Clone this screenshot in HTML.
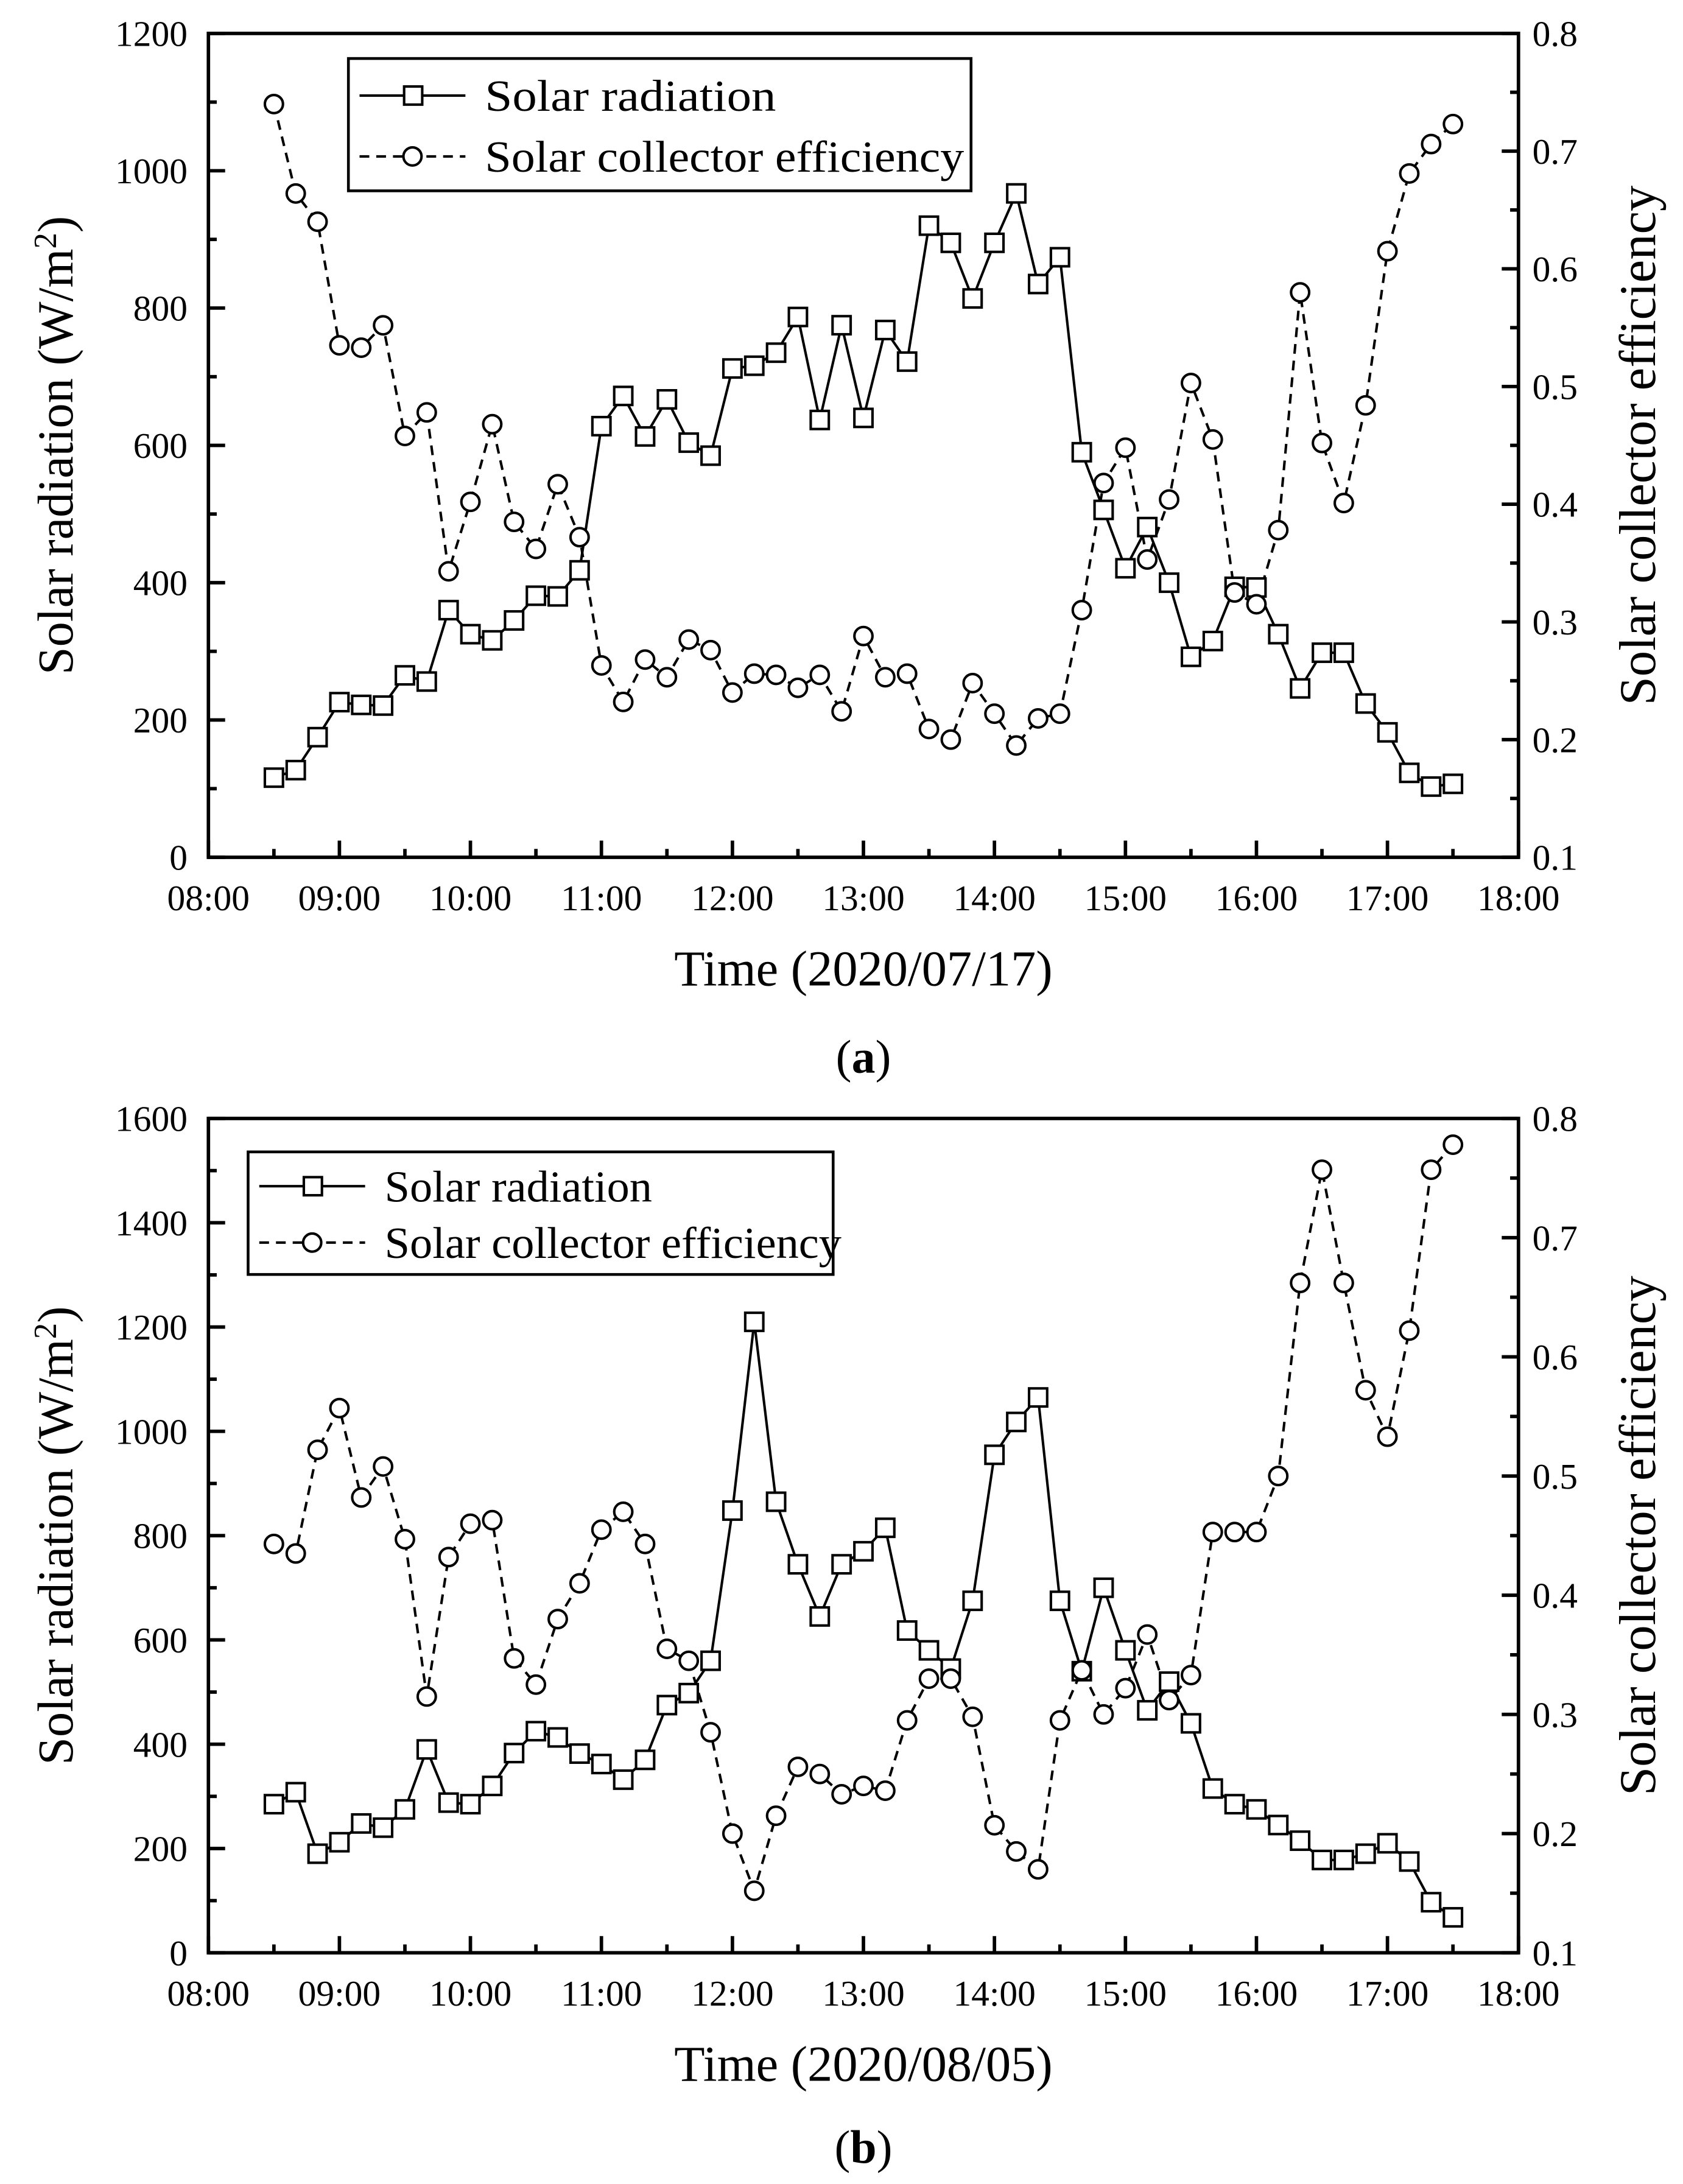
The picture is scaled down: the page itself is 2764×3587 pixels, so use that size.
<!DOCTYPE html>
<html><head><meta charset="utf-8"><style>
html,body{margin:0;padding:0;background:#fff;}
svg{display:block;}
text{font-family:"Liberation Serif",serif;fill:#000;}
</style></head><body>
<svg id="fig" width="2764" height="3587" viewBox="0 0 1208 1568" xmlns="http://www.w3.org/2000/svg"></svg>
<script>
const timeLabels=["08:00","09:00","10:00","11:00","12:00","13:00","14:00","15:00","16:00","17:00","18:00"];
const startMinutes=510, stepMinutes=10;
const radA=[116,127,175,226,222,221,265,256,360,325,316,345,381,380,418,628,672,613,667,604,585,712,716,735,787,637,775,640,768,722,920,895,814,895,967,835,874,590,506,421,481,400,292,315,394,393,325,246,298,298,224,182,123,103,107];
const effA=[0.74,0.664,0.64,0.535,0.533,0.552,0.458,0.478,0.343,0.402,0.468,0.385,0.362,0.417,0.372,0.263,0.232,0.268,0.253,0.285,0.276,0.24,0.256,0.255,0.244,0.255,0.224,0.288,0.253,0.256,0.209,0.2,0.248,0.222,0.195,0.218,0.222,0.31,0.418,0.448,0.353,0.404,0.503,0.455,0.325,0.315,0.378,0.58,0.452,0.401,0.484,0.615,0.681,0.706,0.723];
const radB=[285,308,190,212,248,240,275,390,288,285,320,383,425,413,382,362,332,370,475,498,560,848,1210,865,745,645,745,770,815,618,580,545,675,955,1018,1065,675,540,700,580,465,520,440,315,285,275,245,215,178,178,190,210,175,97,68];
const effB=[0.443,0.435,0.522,0.557,0.482,0.508,0.447,0.315,0.432,0.46,0.463,0.347,0.325,0.38,0.41,0.455,0.47,0.443,0.355,0.345,0.285,0.2,0.152,0.215,0.256,0.25,0.233,0.24,0.236,0.295,0.33,0.33,0.298,0.207,0.185,0.17,0.295,0.337,0.3,0.322,0.367,0.312,0.333,0.453,0.453,0.453,0.5,0.662,0.757,0.662,0.572,0.533,0.622,0.757,0.778];
const leftTicksA=[0,200,400,600,800,1000,1200];
const leftTicksB=[0,200,400,600,800,1000,1200,1400,1600];
const rightTicks=[0.1,0.2,0.3,0.4,0.5,0.6,0.7,0.8];

const NS="http://www.w3.org/2000/svg";
const svg=document.getElementById('fig');
function mk(tag,attrs,parent){const e=document.createElementNS(NS,tag);for(const k in attrs)e.setAttribute(k,attrs[k]);(parent||svg).appendChild(e);return e;}

function chart(cfg){
  const g=mk('g',{});
  
  
  const x0=149.5,x1=1090,yT=cfg.top,yB=cfg.bottom;
  const xs=m=>x0+(m-480)/600*(x1-x0);
  const yl=v=>yB-v/cfg.lmax*(yB-yT);
  const yr=v=>yB-(v-0.1)/0.7*(yB-yT);
  const frame=mk('rect',{x:x0,y:yT,width:x1-x0,height:yB-yT,fill:'none',stroke:'#000','stroke-width':2.5},g);
  
  
  timeLabels.forEach((t,i)=>{const x=xs(480+i*60);
    mk('line',{x1:x,x2:x,y1:yB,y2:yB-12,stroke:'#000','stroke-width':2.5},g);
    if(i<10)mk('line',{x1:xs(510+i*60),x2:xs(510+i*60),y1:yB,y2:yB-6,stroke:'#000','stroke-width':2.5},g);
    const tx=mk('text',{x:x,y:yB+38,'font-size':26,'text-anchor':'middle'},g);tx.textContent=t;
    
    });
  cfg.lticks.forEach((v,i)=>{const y=yl(v);
    mk('line',{x1:x0,x2:x0+12,y1:y,y2:y,stroke:'#000','stroke-width':2.5},g);
    if(i<cfg.lticks.length-1){const ym=yl(v+100);mk('line',{x1:x0,x2:x0+6,y1:ym,y2:ym,stroke:'#000','stroke-width':2.5},g);}
    const tx=mk('text',{x:x0-15,y:y+9,'font-size':26,'text-anchor':'end'},g);tx.textContent=v;
    
    });
  rightTicks.forEach((v,i)=>{const y=yr(v);
    mk('line',{x1:x1-12,x2:x1,y1:y,y2:y,stroke:'#000','stroke-width':2.5},g);
    if(i<rightTicks.length-1){const ym=yr(v+0.05);mk('line',{x1:x1-6,x2:x1,y1:ym,y2:ym,stroke:'#000','stroke-width':2.5},g);}
    const tx=mk('text',{x:x1+10,y:y+9,'font-size':26},g);tx.textContent=String(v);
    
    });
  const xt=mk('text',{x:(x0+x1)/2,y:yB+92,'font-size':36,'text-anchor':'middle'},g);xt.textContent=cfg.xtitle;
  
  
  const cy=(yT+yB)/2;
  const lt=mk('text',{x:0,y:0,'font-size':36,'text-anchor':'middle',transform:`translate(52,${cy}) rotate(-90)`},g);
  lt.innerHTML='Solar radiation (W/m<tspan dy="-12" font-size="23">2</tspan><tspan dy="12">)</tspan>';
  
  
  const rt=mk('text',{x:0,y:0,'font-size':37,'text-anchor':'middle',transform:`translate(1188,${cy}) rotate(-90)`},g);
  rt.textContent='Solar collector efficiency';
  
  
  const xsOf=i=>xs(startMinutes+i*stepMinutes);
  const p1=mk('polyline',{points:cfg.rad.map((v,i)=>xsOf(i)+','+yl(v)).join(' '),fill:'none',stroke:'#000','stroke-width':1.8},g);
  
  
  const p2=mk('polyline',{points:cfg.eff.map((v,i)=>xsOf(i)+','+yr(v)).join(' '),fill:'none',stroke:'#000','stroke-width':1.8,'stroke-dasharray':'7,5'},g);
  
  
  cfg.rad.forEach((v,i)=>{const r=mk('rect',{x:xsOf(i)-6.5,y:yl(v)-6.5,width:13,height:13,fill:'#fff',stroke:'#000','stroke-width':1.8},g);
    
    });
  cfg.eff.forEach((v,i)=>{const c=mk('circle',{cx:xsOf(i),cy:yr(v),r:6.5,fill:'#fff',stroke:'#000','stroke-width':1.8},g);
    
    });
  const L=cfg.leg;
  const lg=mk('g',{},g);
  
  
  mk('rect',{x:L.x,y:L.y,width:L.w,height:L.h,fill:'#fff',stroke:'#000','stroke-width':2},lg);
  const r1=L.y+L.h*0.28,r2=L.y+L.h*0.74;
  mk('line',{x1:L.x+8,x2:L.x+84,y1:r1,y2:r1,stroke:'#000','stroke-width':1.8},lg);
  mk('rect',{x:L.x+40,y:r1-6.5,width:13,height:13,fill:'#fff',stroke:'#000','stroke-width':1.8},lg);
  mk('line',{x1:L.x+8,x2:L.x+84,y1:r2,y2:r2,stroke:'#000','stroke-width':1.8,'stroke-dasharray':'7,5'},lg);
  mk('circle',{cx:L.x+46,cy:r2,r:6.5,fill:'#fff',stroke:'#000','stroke-width':1.8},lg);
  const e1=mk('text',{x:L.x+98,y:r1+11,'font-size':32,textLength:L.t1,lengthAdjust:'spacingAndGlyphs'},lg);e1.textContent='Solar radiation';
  
  
  const e2=mk('text',{x:L.x+98,y:r2+11,'font-size':32,textLength:L.t2,lengthAdjust:'spacingAndGlyphs'},lg);e2.textContent='Solar collector efficiency';
  
  
  const cap=mk('text',{x:(x0+x1)/2,y:cfg.capY,'font-size':34,'text-anchor':'middle'},g);
  cap.innerHTML='(<tspan font-weight="bold">'+cfg.cap+'</tspan>)';
  
  
}
chart({name:'chart-a',top:24,bottom:615.5,lmax:1200,lticks:leftTicksA,rad:radA,eff:effA,xtitle:'Time (2020/07/17)',cap:'a',capY:770,leg:{x:250,y:42,w:447,h:95,t1:209,t2:344}});
chart({name:'chart-b',top:803,bottom:1402,lmax:1600,lticks:leftTicksB,rad:radB,eff:effB,xtitle:'Time (2020/08/05)',cap:'b',capY:1553,leg:{x:178,y:827,w:420,h:88,t1:192,t2:328}});
</script>
</body></html>
